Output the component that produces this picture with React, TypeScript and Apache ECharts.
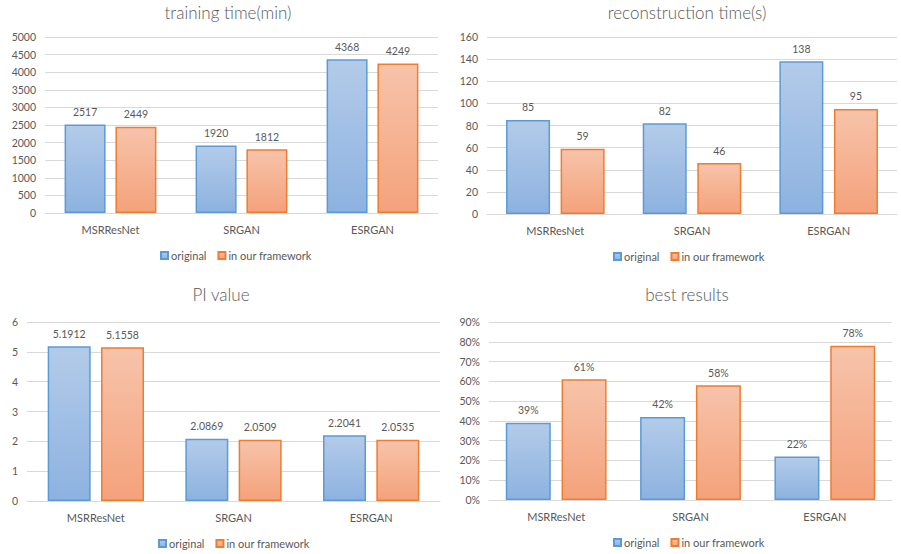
import React, { useEffect, useRef } from "react";
import * as echarts from "echarts";

const categories = ["MSRResNet", "SRGAN", "ESRGAN"];
const seriesNames = ["original", "in our framework"];

const trainingOriginal = [2517, 1920, 4368];
const trainingFramework = [2449, 1812, 4249];

const reconOriginal = [85, 82, 138];
const reconFramework = [59, 46, 95];

const piOriginal = [5.1912, 2.0869, 2.2041];
const piFramework = [5.1558, 2.0509, 2.0535];

const bestOriginal = [39, 42, 22];
const bestFramework = [61, 58, 78];

const titles = ["training time(min)", "reconstruction time(s)", "PI value", "best results"];

const FONT = "Lato";
const TEXT = "#595959";
const GRIDLINE = "#d9d9d9";

const blueFill = () =>
  new echarts.graphic.LinearGradient(0, 0, 0, 1, [
    { offset: 0, color: "#b3cbe9" },
    { offset: 1, color: "#8db2e0" },
  ]);
const orangeFill = () =>
  new echarts.graphic.LinearGradient(0, 0, 0, 1, [
    { offset: 0, color: "#f7c3aa" },
    { offset: 1, color: "#f4a27b" },
  ]);

const plain = (v: number) => String(v);
const pct = (v: number) => v + "%";

const panels = [
  { grid: { left: 45, right: 463, top: 37, bottom: 341 }, max: 5000, interval: 500, fmt: plain, orig: trainingOriginal, fw: trainingFramework, barW: 41, title: { x: 228, y: 12 }, legend: { left: 160, top: 250 } },
  { grid: { left: 487, right: 4, top: 37, bottom: 340 }, max: 160, interval: 20, fmt: plain, orig: reconOriginal, fw: reconFramework, barW: 44, title: { x: 687, y: 12 }, legend: { left: 613, top: 251 } },
  { grid: { left: 27, right: 461, top: 322, bottom: 53 }, max: 6, interval: 1, fmt: plain, orig: piOriginal, fw: piFramework, barW: 43, title: { x: 221, y: 294 }, legend: { left: 158, top: 538 } },
  { grid: { left: 489, right: 9, top: 322, bottom: 54 }, max: 90, interval: 10, fmt: pct, orig: bestOriginal, fw: bestFramework, barW: 45, title: { x: 687, y: 294 }, legend: { left: 613, top: 537 } },
];

export default function App() {
  const ref = useRef<HTMLDivElement>(null);
  useEffect(() => {
    if (!ref.current) return;
    const chart = echarts.init(ref.current, null, { renderer: "svg" });
    const grids: any[] = [];
    const xAxes: any[] = [];
    const yAxes: any[] = [];
    const series: any[] = [];
    const legends: any[] = [];
    const graphics: any[] = [];
    panels.forEach((p, i) => {
      grids.push({ ...p.grid, containLabel: false });
      xAxes.push({
        type: "category",
        gridIndex: i,
        data: categories,
        axisLine: { lineStyle: { color: GRIDLINE, width: 1 } },
        axisTick: { show: false },
        axisLabel: { color: TEXT, fontFamily: FONT, fontSize: 11, margin: 11 },
      });
      yAxes.push({
        type: "value",
        gridIndex: i,
        min: 0,
        max: p.max,
        interval: p.interval,
        axisLine: { show: false },
        axisTick: { show: false },
        splitLine: { lineStyle: { color: GRIDLINE, width: 1 } },
        axisLabel: { color: TEXT, fontFamily: FONT, fontSize: 10.5, margin: 9, formatter: p.fmt },
      });
      const mk = (name: string, data: number[], fill: () => any, border: string) => ({
        type: "bar",
        name,
        xAxisIndex: i,
        yAxisIndex: i,
        data,
        barWidth: p.barW,
        barGap: "24%",
        itemStyle: { color: fill(), borderColor: border, borderWidth: 1.5 },
        label: {
          show: true,
          position: "top",
          distance: 7,
          color: TEXT,
          fontFamily: FONT,
          fontSize: 10.5,
          formatter: (prm: any) => p.fmt(prm.value),
        },
      });
      series.push(mk(seriesNames[0], p.orig, blueFill, "#5b9bd5"));
      series.push(mk(seriesNames[1], p.fw, orangeFill, "#ed7d31"));
      legends.push({
        data: seriesNames,
        left: p.legend.left,
        top: p.legend.top,
        padding: 0,
        itemWidth: 7,
        itemHeight: 7,
        itemGap: 11,
        icon: "rect",
        selectedMode: false,
        textStyle: { color: TEXT, fontFamily: FONT, fontSize: 11, padding: [0, 0, 0, -2] },
      });
      graphics.push({
        type: "text",
        x: p.title.x,
        y: p.title.y,
        style: {
          text: titles[i],
          align: "center",
          verticalAlign: "middle",
          fill: TEXT,
          font: `300 17px ${FONT}`,
        },
      });
    });
    chart.setOption({
      animation: false,
      backgroundColor: "#ffffff",
      grid: grids,
      xAxis: xAxes,
      yAxis: yAxes,
      series,
      legend: legends,
      graphic: graphics,
    });
    return () => chart.dispose();
  }, []);
  return (
    <div
      ref={ref}
      style={{ position: "absolute", left: 0, top: 0, width: 901, height: 554 }}
    />
  );
}
